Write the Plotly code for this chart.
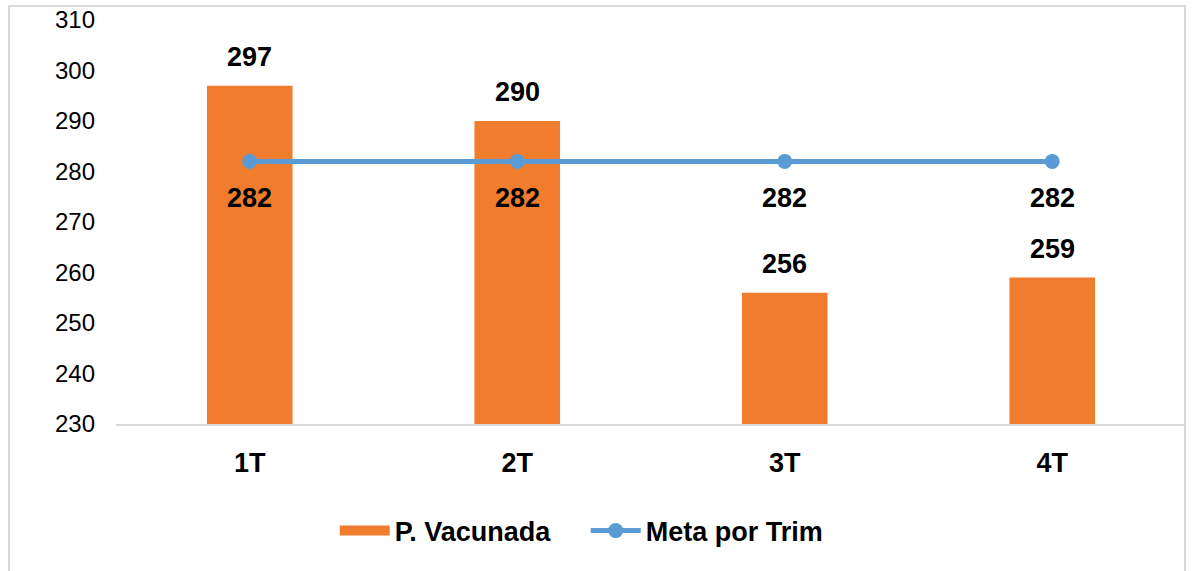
import plotly.graph_objects as go

categories = ["1T", "2T", "3T", "4T"]
vacunada = [297, 290, 256, 259]
meta = [282, 282, 282, 282]
y_ticks = [230, 240, 250, 260, 270, 280, 290, 300, 310]

FONT = "Liberation Sans, Arial, sans-serif"
ORANGE = "#F07D2E"
BLUE = "#5B9BD5"

fig = go.Figure()
fig.add_trace(go.Bar(
    x=categories, y=vacunada, name="P. Vacunada", showlegend=False,
    marker=dict(color=ORANGE, line=dict(width=0)),
    width=0.32,
))
# legend entry for bars drawn as a thick swatch
fig.add_trace(go.Scatter(
    x=[None], y=[None], name="<b>P. Vacunada</b>", mode="lines",
    line=dict(color=ORANGE, width=15),
))
fig.add_trace(go.Scatter(
    x=categories, y=meta, name="<b>Meta por Trim</b>", mode="lines+markers",
    line=dict(color=BLUE, width=5),
    marker=dict(size=15, color=BLUE),
))

annotations = []
for c, v in zip(categories, vacunada):
    annotations.append(dict(x=c, y=v, text=f"<b>{v}</b>", showarrow=False,
                            yanchor="bottom", yshift=12,
                            font=dict(size=27, color="black", family=FONT)))
for c, v in zip(categories, meta):
    annotations.append(dict(x=c, y=v, text=f"<b>{v}</b>", showarrow=False,
                            yanchor="top", yshift=-20,
                            font=dict(size=27, color="black", family=FONT)))

fig.update_layout(
    width=1192, height=571,
    margin=dict(l=116, r=6, t=20, b=147),
    paper_bgcolor="white", plot_bgcolor="white",
    font=dict(family=FONT, color="black"),
    showlegend=True,
    legend=dict(orientation="h", x=0.439, xanchor="center", y=-0.265, yanchor="middle",
                font=dict(size=27, family=FONT), itemwidth=50,
                entrywidth=186, traceorder="normal"),
    annotations=annotations,
    shapes=[dict(type="rect", xref="paper", yref="paper",
                 x0=-0.1, x1=0.9991, y0=-0.4, y1=1.0347,
                 line=dict(color="#D9D9D9", width=2), layer="below")],
)
fig.update_xaxes(
    showgrid=False, showline=True, linecolor="#D9D9D9", linewidth=2,
    ticks="", tickfont=dict(size=27, family=FONT), ticklabelstandoff=14,
    tickprefix="<b>", ticksuffix="</b>",
)
fig.update_yaxes(
    range=[230, 310], tickvals=y_ticks, showgrid=False, showline=False,
    zeroline=False, ticks="", tickfont=dict(size=24, family=FONT),
    ticklabelstandoff=20,
)

fig.write_html("out.html", config={"displayModeBar": False},
               post_script="document.body.style.margin='0px';")
